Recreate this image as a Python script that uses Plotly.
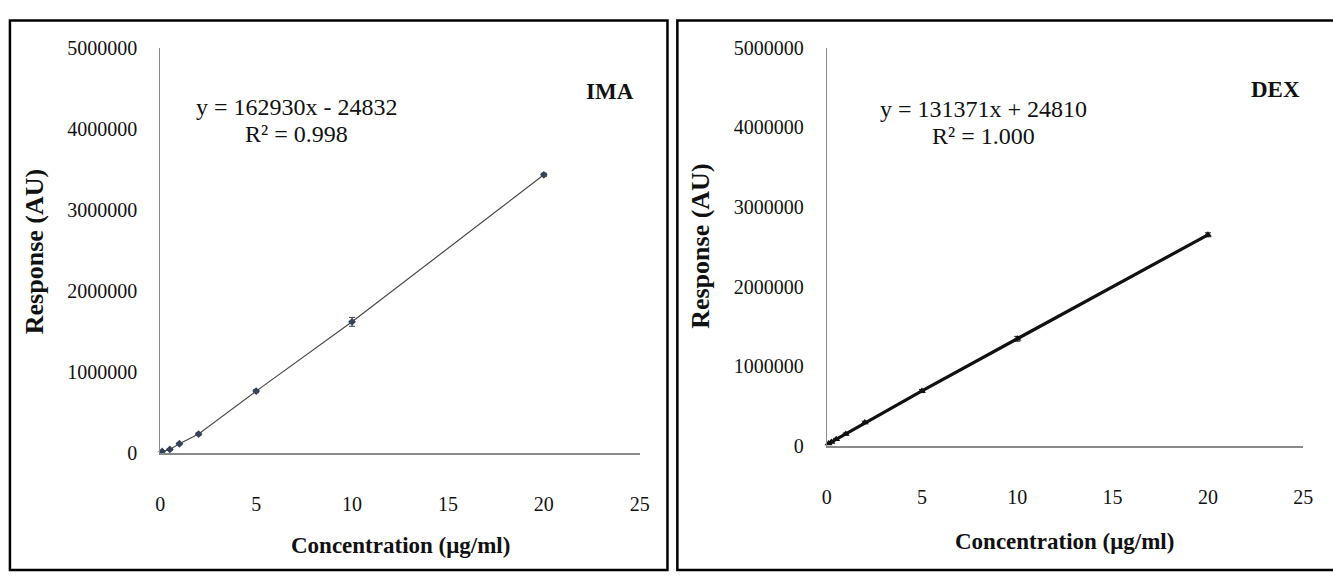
import plotly.graph_objects as go

W, H = 1333, 583

# ---- data ----
ima_conc = [0.1, 0.5, 1, 2, 5, 10, 20]
ima_resp = [15000, 40000, 110000, 230000, 760000, 1615000, 3430000]
ima_err = [10000, 10000, 12000, 15000, 20000, 55000, 20000]

dex_conc = [0.1, 0.25, 0.5, 1, 2, 5, 10, 20]
dex_resp = [30000, 50000, 85000, 150000, 295000, 690000, 1345000, 2650000]
dex_err = [8000, 8000, 10000, 12000, 15000, 20000, 30000, 25000]

x_ticks = [0, 5, 10, 15, 20, 25]
y_ticks = [0, 1000000, 2000000, 3000000, 4000000, 5000000]

ima_eq = "y = 162930x - 24832"
ima_r2 = "R² = 0.998"
dex_eq = "y = 131371x + 24810"
dex_r2 = "R² = 1.000"
x_title = "Concentration (μg/ml)"
y_title = "Response (AU)"

SERIF = "Liberation Serif, Times New Roman, serif"


def px(x):
    return x / W


def py(y):
    return 1 - y / H


fig = go.Figure()

fig.add_trace(go.Scatter(
    x=ima_conc, y=ima_resp, mode="lines+markers",
    line=dict(color="#4a4a4a", width=1.2),
    marker=dict(symbol="diamond", size=6, color="#34435a"),
    error_y=dict(type="data", array=ima_err, color="#34435a", thickness=1, width=3),
    cliponaxis=False, xaxis="x", yaxis="y", showlegend=False))

fig.add_trace(go.Scatter(
    x=dex_conc, y=dex_resp, mode="lines+markers",
    line=dict(color="#111111", width=3.2),
    marker=dict(symbol="triangle-up", size=7, color="#111111"),
    error_y=dict(type="data", array=dex_err, color="#111111", thickness=1, width=3),
    cliponaxis=False, xaxis="x2", yaxis="y2", showlegend=False))

axis_common = dict(showgrid=False, zeroline=False, ticks="", showline=True,
                   tickfont=dict(family=SERIF, size=20, color="#111"))

fig.update_layout(
    width=W, height=H,
    margin=dict(l=0, r=0, t=0, b=0),
    paper_bgcolor="white", plot_bgcolor="white",
    xaxis=dict(domain=[px(157), px(642)], range=[0, 25], tickvals=x_ticks,
               linecolor="#8a8a8a", linewidth=2, anchor="y",
               ticklabelstandoff=32, **axis_common),
    yaxis=dict(domain=[py(459), py(38)], range=[0, 5000000], tickvals=y_ticks,
               tickformat="d", linecolor="#8a8a8a", linewidth=1, anchor="x",
               ticklabelstandoff=18, **axis_common),
    xaxis2=dict(domain=[px(831), px(1313)], range=[0, 25], tickvals=x_ticks,
                linecolor="#8a8a8a", linewidth=2, anchor="y2",
                ticklabelstandoff=32, **axis_common),
    yaxis2=dict(domain=[py(452), py(38)], range=[0, 5000000], tickvals=y_ticks,
                tickformat="d", linecolor="#8a8a8a", linewidth=1, anchor="x2",
                ticklabelstandoff=18, **axis_common),
)

# panel borders
fig.add_shape(type="rect", xref="paper", yref="paper",
              x0=px(5), x1=px(670), y0=py(581), y1=py(10),
              line=dict(color="black", width=2.5))
fig.add_shape(type="rect", xref="paper", yref="paper",
              x0=px(680), x1=px(1345), y0=py(581), y1=py(10),
              line=dict(color="black", width=2.5))


def ann(text, x, y, size, bold=False, angle=0):
    fig.add_annotation(
        text=f"<b>{text}</b>" if bold else text,
        x=px(x), y=py(y), xref="paper", yref="paper",
        showarrow=False, textangle=angle, xanchor="center", yanchor="middle",
        font=dict(family=SERIF, size=size, color="#111"))


ann(ima_eq, 295, 100, 24)
ann(ima_r2, 295, 128, 24)
ann(dex_eq, 990, 102, 24)
ann(dex_r2, 990, 130, 24)
ann("IMA", 612, 84, 23, bold=True)
ann("DEX", 1285, 82, 23, bold=True)
ann(y_title, 30, 250, 26, bold=True, angle=-90)
ann(y_title, 704, 245, 26, bold=True, angle=-90)
ann(x_title, 400, 555, 23, bold=True)
ann(x_title, 1072, 551, 23, bold=True)

fig.write_html(
    "out.html",
    config={"displayModeBar": False},
    post_script="document.body.style.margin='0';document.body.style.overflow='hidden';")
